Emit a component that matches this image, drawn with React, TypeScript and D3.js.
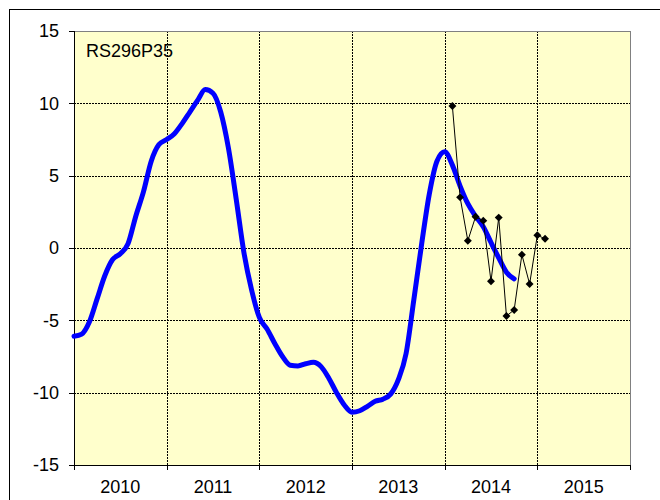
import React from "react";
import * as d3 from "d3";

const chartTitle = "RS296P35";
const yearLabels = [2010, 2011, 2012, 2013, 2014, 2015];
const yTicks = [-15, -10, -5, 0, 5, 10, 15];

// Smoothed trend: monthly values starting Jan 2010
const trendStartYear = 2010;
const trendValues = [
  -6.1, -5.95, -5.1, -3.5, -1.9, -0.8, -0.4, 0.3, 2.2, 3.9, 6.0, 7.15,
  7.5, 7.9, 8.6, 9.4, 10.2, 10.95, 10.7, 9.4, 6.9, 3.4, -0.3, -2.9,
  -4.8, -5.6, -6.6, -7.5, -8.1, -8.15, -8.0, -7.9, -8.2, -9.0, -10.0, -10.85,
  -11.35, -11.25, -10.95, -10.6, -10.45, -10.1, -9.1, -7.3, -3.6, 0.2, 3.7, 6.0,
  6.65, 5.73, 4.28, 3.06, 2.2, 1.47, 0.38, -0.68, -1.67, -2.13,
];

// Observed monthly values
const obsMonths = [
  "2014-02", "2014-03", "2014-04", "2014-05", "2014-06", "2014-07", "2014-08",
  "2014-09", "2014-10", "2014-11", "2014-12", "2015-01", "2015-02",
];
const obsValues = [9.81, 3.5, 0.5, 2.16, 1.89, -2.3, 2.1, -4.7, -4.28, -0.46, -2.49, 0.88, 0.64];

const W = 660;
const H = 500;
const left = 74;
const right = 630;
const top = 31;
const bottom = 465;

function monthToYear(s: string) {
  const [y, m] = s.split("-").map(Number);
  return y + (m - 1) / 12;
}

export default function App() {
  const x = d3.scaleLinear().domain([2010, 2016]).range([left, right]);
  const y = d3.scaleLinear().domain([-15, 15]).range([bottom, top]);

  const trend = trendValues.map((v, i) => ({ t: trendStartYear + i / 12, v }));
  const obs = obsMonths.map((m, i) => ({ t: monthToYear(m), v: obsValues[i] }));

  const trendLine = d3
    .line<{ t: number; v: number }>()
    .x((d) => x(d.t))
    .y((d) => y(d.v))
    .curve(d3.curveMonotoneX);
  const obsLine = d3
    .line<{ t: number; v: number }>()
    .x((d) => x(d.t))
    .y((d) => y(d.v));
  const diamondType = (d3 as any).symbolDiamond2 || d3.symbolDiamond;
  const diamond = d3.symbol().type(diamondType).size(40)();

  const gridX = d3.range(2011, 2016);
  const font = "'Liberation Sans', Arial, sans-serif";

  return (
    <svg
      width={W}
      height={H}
      style={{ position: "absolute", left: 0, top: 0, display: "block", background: "#fff" }}
      fontFamily={font}
    >
      <rect x={9.5} y={9.5} width={700} height={600} fill="#fff" stroke="#000" strokeWidth={1} />
      <rect x={left} y={top} width={right - left} height={bottom - top} fill="#FFFFCC" />
      {/* horizontal grid */}
      {yTicks
        .filter((t) => t !== -15 && t !== 15)
        .map((t) => (
          <line
            key={"gy" + t}
            x1={left}
            x2={right}
            y1={Math.round(y(t)) + 0.5}
            y2={Math.round(y(t)) + 0.5}
            stroke="#000"
            strokeWidth={1}
            strokeDasharray="2,1"
          />
        ))}
      {gridX.map((t) => (
        <line
          key={"gx" + t}
          x1={Math.round(x(t)) + 0.5}
          x2={Math.round(x(t)) + 0.5}
          y1={top}
          y2={bottom}
          stroke="#000"
          strokeWidth={1}
          strokeDasharray="2,1"
        />
      ))}
      {/* top and right border */}
      <line x1={left} x2={right} y1={top + 0.5} y2={top + 0.5} stroke="#808080" strokeWidth={1} />
      <line x1={right + 0.5} x2={right + 0.5} y1={top} y2={bottom} stroke="#808080" strokeWidth={1} />
      {/* axes */}
      <line x1={left + 0.5} x2={left + 0.5} y1={top} y2={bottom} stroke="#000" strokeWidth={1} />
      <line x1={left} x2={right} y1={bottom + 0.5} y2={bottom + 0.5} stroke="#000" strokeWidth={1} />
      {yTicks.map((t) => (
        <g key={"yt" + t}>
          <line
            x1={left - 5}
            x2={left}
            y1={Math.round(y(t)) + 0.5}
            y2={Math.round(y(t)) + 0.5}
            stroke="#000"
          />
          <text x={left - 15} y={y(t)} dy="0.35em" textAnchor="end" fontSize={18} fill="#000">
            {t}
          </text>
        </g>
      ))}
      {d3.range(2010, 2017).map((t) => (
        <line
          key={"xt" + t}
          x1={Math.round(x(t)) + 0.5}
          x2={Math.round(x(t)) + 0.5}
          y1={bottom}
          y2={bottom + 5}
          stroke="#000"
        />
      ))}
      {yearLabels.map((yr) => (
        <text key={"xl" + yr} x={x(yr + 0.5)} y={493} textAnchor="middle" fontSize={18} fill="#000">
          {yr}
        </text>
      ))}
      {/* trend */}
      <path
        d={trendLine(trend) || ""}
        fill="none"
        stroke="#0000FF"
        strokeWidth={5}
        strokeLinecap="round"
        strokeLinejoin="round"
      />
      {/* observed */}
      <path d={obsLine(obs) || ""} fill="none" stroke="#000" strokeWidth={1} />
      {obs.map((d, i) => (
        <path key={"o" + i} d={diamond || ""} transform={`translate(${x(d.t)},${y(d.v)})`} fill="#000" />
      ))}
      <text x={86} y={57} fontSize={18} fill="#000">
        {chartTitle}
      </text>
    </svg>
  );
}
